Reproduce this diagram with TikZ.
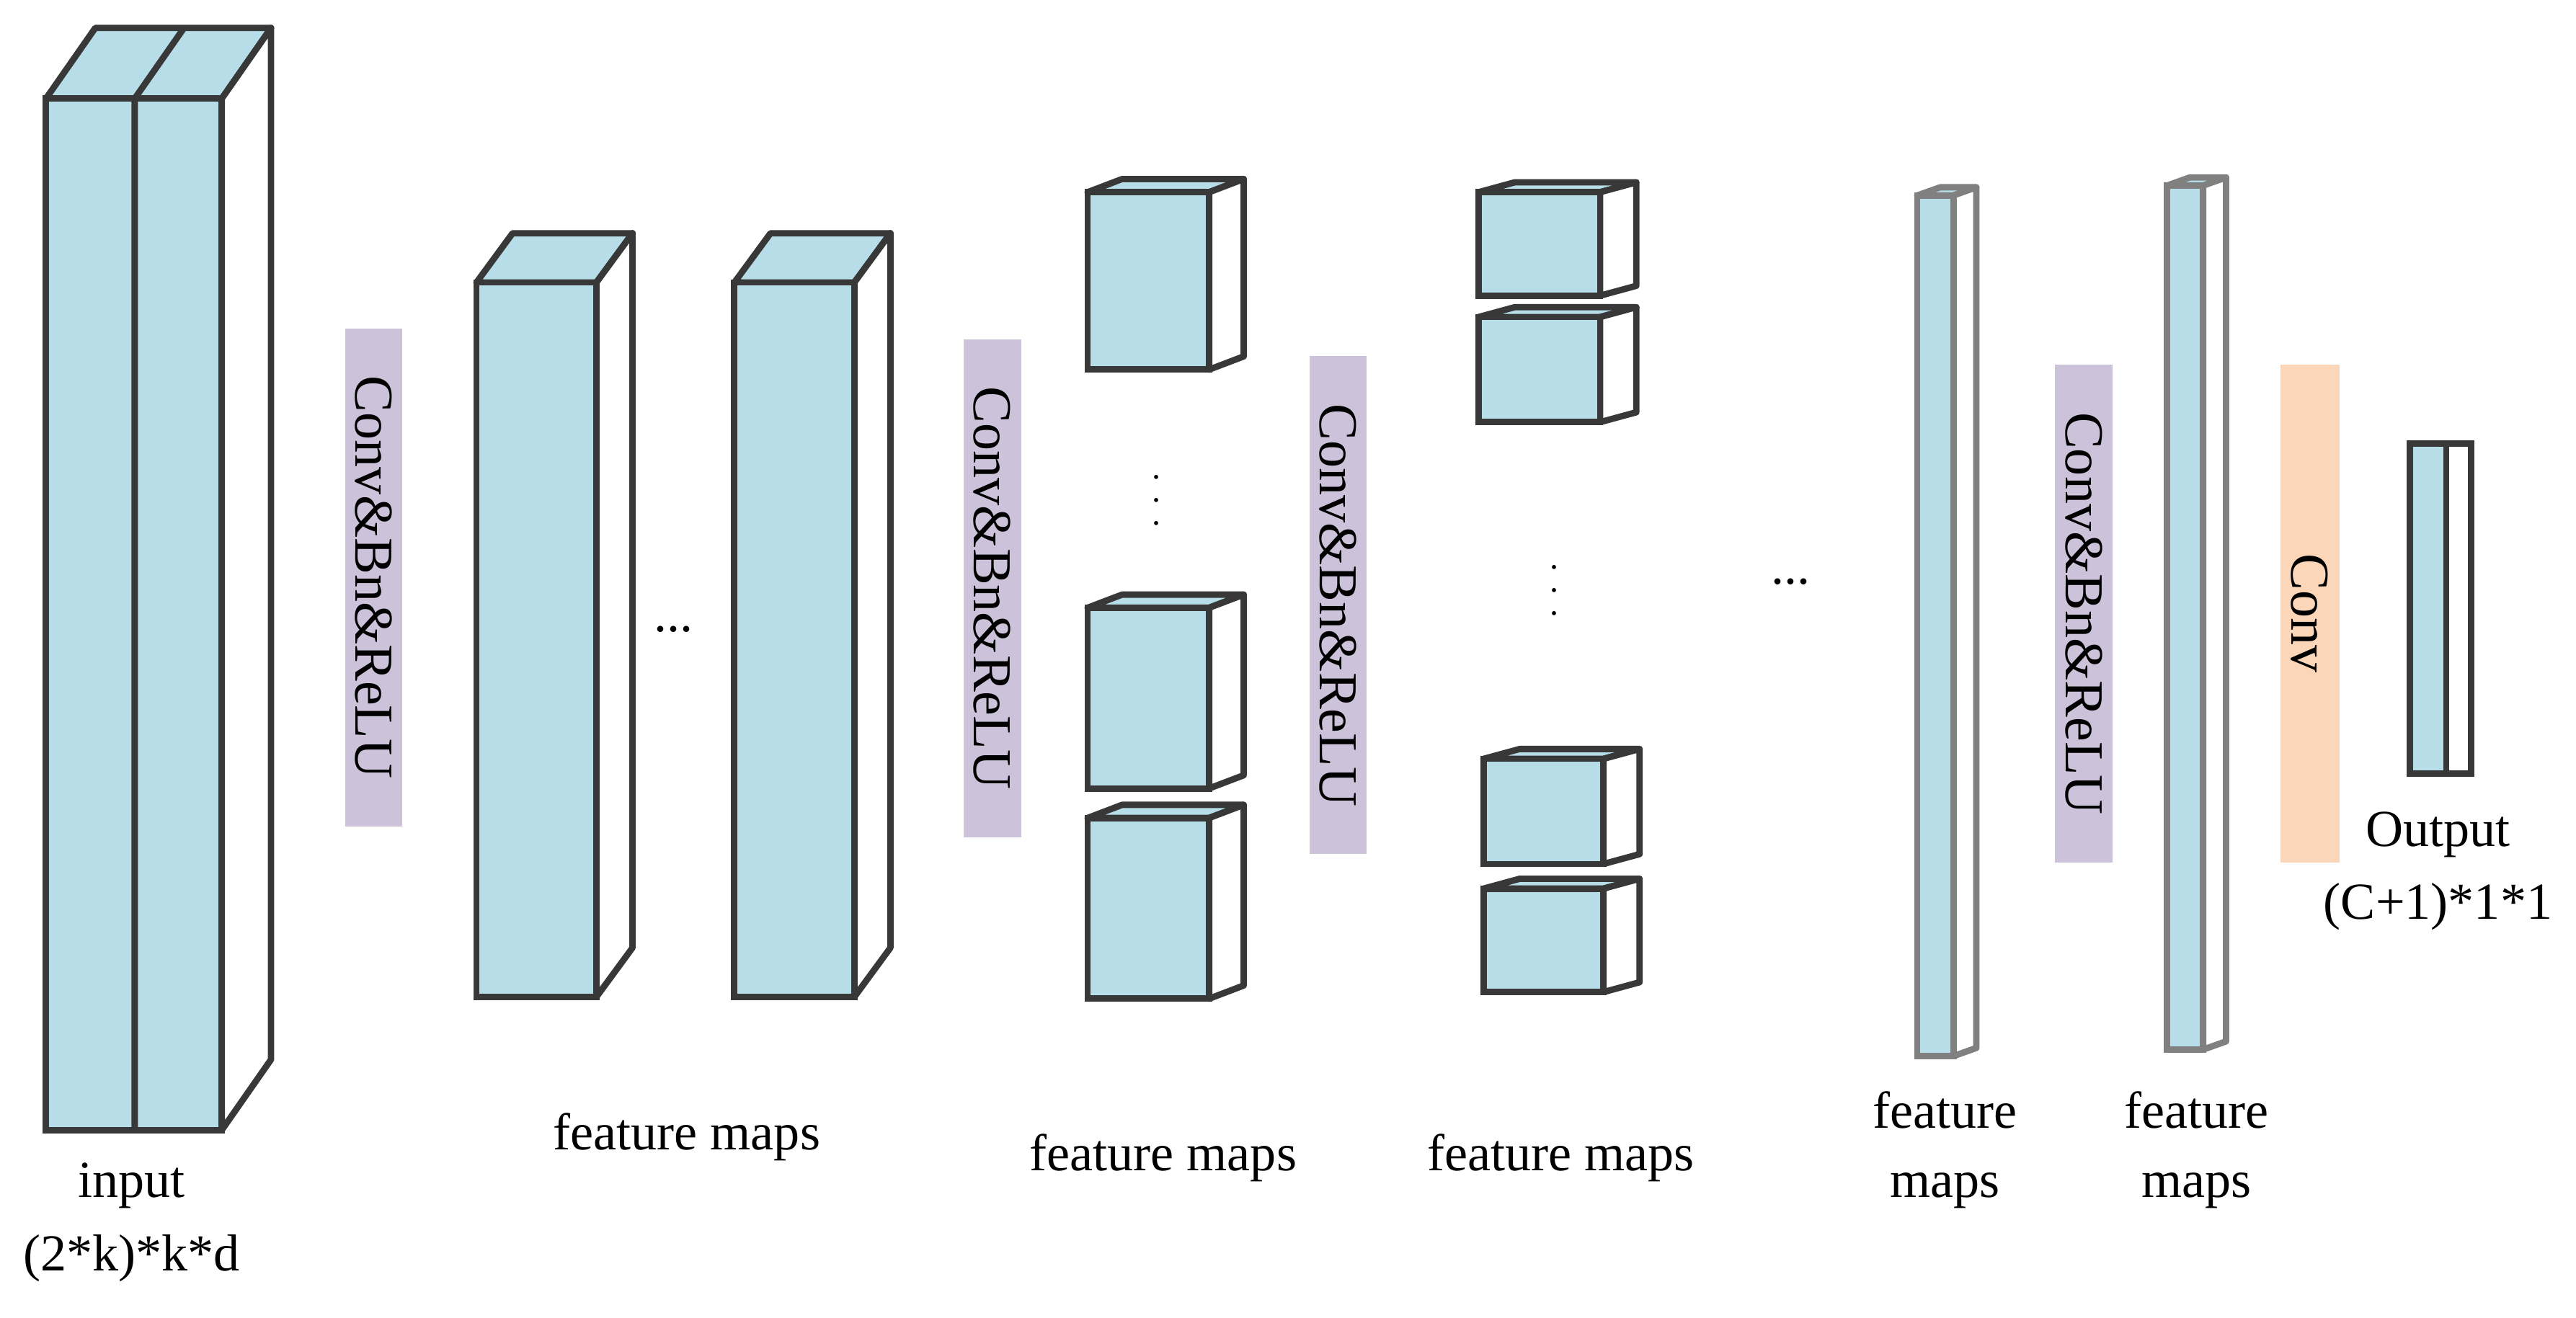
\documentclass[tikz,border=0pt]{standalone}
\usepackage{fontspec}
\setmainfont{Liberation Serif}
\definecolor{cblue}{HTML}{B7DDE8}
\definecolor{cpurp}{HTML}{CCC3DB}
\definecolor{corng}{HTML}{FBD6B8}
\definecolor{edge}{HTML}{383838}
\newcommand{\myprism}[7]{% x1,y1,x2,y2,dx,dy,edgecolor
  \draw[#7,line width=1.1pt,line join=round,fill=cblue] (#1,#2) -- ++(#5,-#6) -- (#3+#5,#2-#6) -- (#3,#2) -- cycle;
  \draw[#7,line width=1.1pt,line join=round,fill=white] (#3,#2) -- (#3+#5,#2-#6) -- (#3+#5,#4-#6) -- (#3,#4) -- cycle;
  \draw[#7,line width=1.1pt,fill=cblue] (#1,#2) rectangle (#3,#4);}
\tikzset{
  lbl/.style={font=\fontsize{9}{10}\selectfont, inner sep=0pt, align=center},
  vd/.style={font=\fontsize{6}{6}\selectfont, inner sep=0pt},
  op/.style={minimum height=0.35cm, minimum width=3.03cm, inner sep=0pt, rotate=-90, font=\fontsize{9.5}{10}\selectfont},
}
\begin{document}
\begin{tikzpicture}[x=0.01cm,y=-0.01cm]
\useasboundingbox (0,0) rectangle (1568,802);
% input
\myprism{28}{60}{135}{688}{30}{43}{edge}
\draw[edge,line width=1.1pt] (82,60) -- (82,688) (82,60) -- (112,17);
\node[lbl] (in1) at (80,722) {input};
\node[lbl] (in2) at (80,766) {(2*k)*k*d};
% conv 1
\node[op, fill=cpurp] (c1) at (227.5,351.5) {Conv\&Bn\&ReLU};
% feature maps 1
\myprism{290}{172}{363}{607}{22}{30}{edge}
\myprism{447}{172}{520}{607}{22}{30}{edge}
\node[lbl] (d1) at (410,383) {...};
\node[lbl] (f1) at (418,692) {feature maps};
% conv 2
\node[op, fill=cpurp] (c2) at (604,358) {Conv\&Bn\&ReLU};
% cubes
\myprism{662}{117}{736}{225}{21}{8}{edge}
\myprism{662}{370}{736}{480}{21}{8}{edge}
\myprism{662}{498}{736}{608}{21}{8}{edge}
\node[vd] (d2) at (704,294) {$\vdots$};
\node[lbl] (f2) at (708,705) {feature maps};
% conv 3
\node[op, fill=cpurp] (c3) at (814.5,368.5) {Conv\&Bn\&ReLU};
% small cubes
\myprism{900}{117}{974}{180}{22}{6}{edge}
\myprism{900}{193}{974}{257}{22}{6}{edge}
\myprism{903}{462}{976}{526}{22}{6}{edge}
\myprism{903}{541}{976}{604}{22}{6}{edge}
\node[vd] (d3) at (946,349) {$\vdots$};
\node[lbl] (f3) at (950,705) {feature maps};
\node[lbl] (d4) at (1090,354) {...};
% bars
\myprism{1167}{119}{1189}{643}{14}{5}{gray}
\node[lbl] (f4) at (1184,700) {feature\\[2pt]maps};
\node[op, fill=cpurp] (c4) at (1268.5,373.5) {Conv\&Bn\&ReLU};
\myprism{1319}{113}{1341}{639}{14}{5}{gray}
\node[lbl] (f5) at (1337,700) {feature\\[2pt]maps};
\node[op, fill=corng, minimum height=0.36cm] (c5) at (1406,373.5) {Conv};
% output
\draw[edge,line width=1.1pt,fill=white] (1489,270) rectangle (1504,471);
\draw[edge,line width=1.1pt,fill=cblue] (1467,270) rectangle (1489,471);
\node[lbl] (o1) at (1484,508) {Output};
\node[lbl] (o2) at (1484,552) {(C+1)*1*1};
\end{tikzpicture}
\end{document}
